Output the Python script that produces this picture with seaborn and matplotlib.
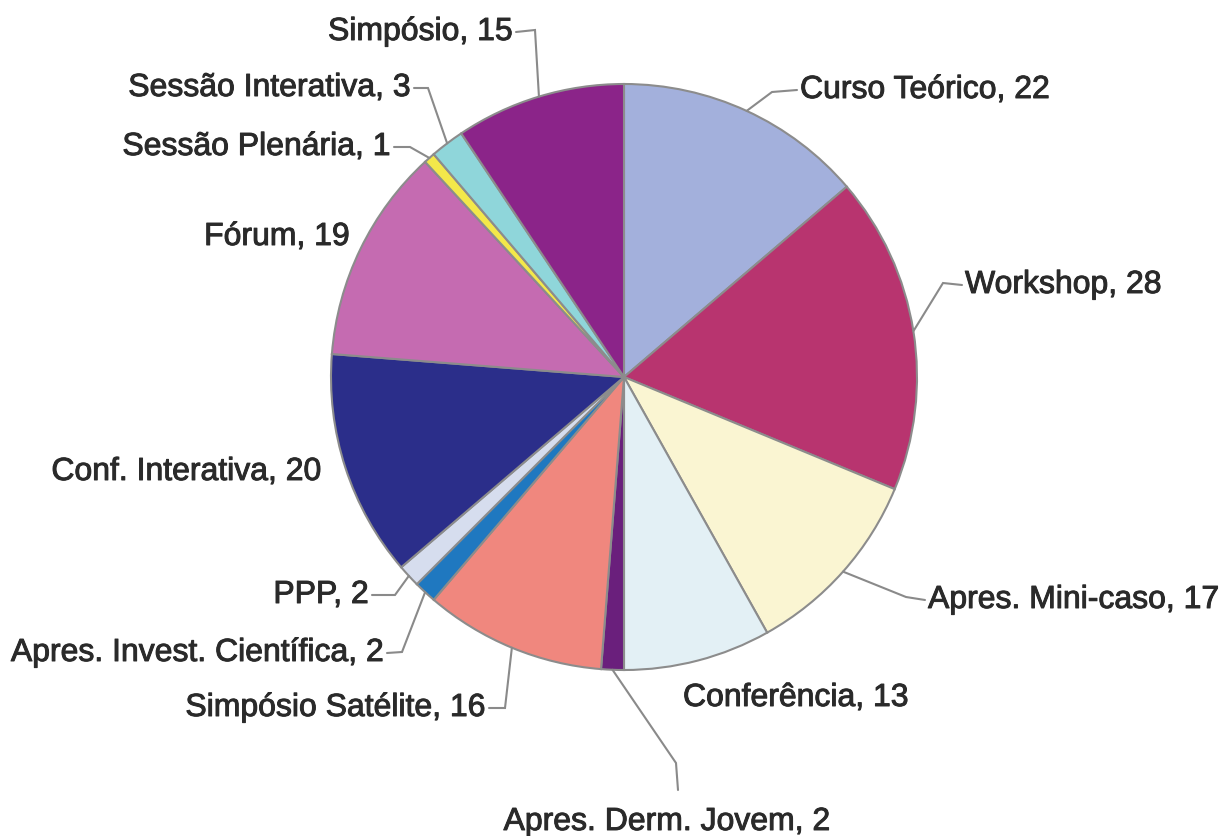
import matplotlib
matplotlib.use("Agg")
import matplotlib.pyplot as plt
import matplotlib.patheffects as pe
import numpy as np
import seaborn as sns

# sessions by type
categories = ["Curso Teórico", "Workshop", "Apres. Mini-caso", "Conferência",
              "Apres. Derm. Jovem", "Simpósio Satélite", "Apres. Invest. Científica",
              "PPP", "Conf. Interativa", "Fórum", "Sessão Plenária",
              "Sessão Interativa", "Simpósio"]
counts = [22, 28, 17, 13, 2, 16, 2, 2, 20, 19, 1, 3, 15]
colors = ["#a3b0dc", "#b8346f", "#faf5d2", "#e3f0f5", "#6a1f7c", "#f0877e",
          "#1f78c0", "#d6ddee", "#2b2e8a", "#c56bb1", "#f3e84a", "#8fd6da",
          "#8b2489"]

sns.set_theme(style="white")
plt.rcParams["font.family"] = ["Liberation Sans", "DejaVu Sans"]

W, H = 1223, 836
cx, cy, r = 624, 377, 293  # pie centre / radius in pixels


def px(x, y):
    # pixel position (from top-left) -> data coords of the pie axes
    return (x - cx) / r, (cy - y) / r


fig = plt.figure(figsize=(W / 100, H / 100), dpi=100)
ax = fig.add_axes([0, 0, 1, 1])
wedges, _ = ax.pie(counts, colors=sns.color_palette(colors), startangle=90,
                   counterclock=False, radius=1,
                   wedgeprops=dict(edgecolor="#8c8c8c", linewidth=1.5))
ax.set_xlim(-cx / r, (W - cx) / r)
ax.set_ylim((cy - H) / r, cy / r)
ax.set_aspect("equal", adjustable="datalim")
ax.axis("off")

# label layout: text anchor (px), alignment, elbow point (px) or None
layout = {
    "Curso Teórico": ((800, 90), "left", (772, 92)),
    "Workshop": ((965, 285), "left", (943, 283)),
    "Apres. Mini-caso": ((928, 600), "left", (906, 597)),
    "Conferência": ((683, 698), "left", None),
    "Apres. Derm. Jovem": ((667, 822), "center", (676, 763)),
    "Simpósio Satélite": ((486, 708), "right", (505, 708)),
    "Apres. Invest. Científica": ((384, 653), "right", (402, 652)),
    "PPP": ((369, 595), "right", (395, 595)),
    "Conf. Interativa": ((322, 472), "right", None),
    "Fórum": ((350, 237), "right", None),
    "Sessão Plenária": ((391, 147), "right", (410, 147)),
    "Sessão Interativa": ((411, 88), "right", (428, 88)),
    "Simpósio": ((513, 32), "right", (535, 30)),
}

stroke = [pe.withStroke(linewidth=0.7, foreground="#2a2a2a")]
for w, name, n in zip(wedges, categories, counts):
    (tx, ty), ha, elbow = layout[name]
    ax.text(*px(tx, ty), f"{name}, {n}", ha=ha, va="center",
            fontsize=23, color="#2a2a2a", path_effects=stroke)
    if elbow is None:
        continue
    mid = np.deg2rad((w.theta1 + w.theta2) / 2)
    edge = (np.cos(mid), np.sin(mid))
    if ha == "center":
        start = px(tx + 11, ty - 32)
    elif ha == "left":
        start = px(tx - 3, ty)
    else:
        start = px(tx + 3, ty)
    ex, ey = px(*elbow)
    ax.plot([start[0], ex, edge[0]], [start[1], ey, edge[1]],
            color="#8a8a8a", lw=1.5, solid_joinstyle="miter")

fig.savefig("out.png", dpi=100)
